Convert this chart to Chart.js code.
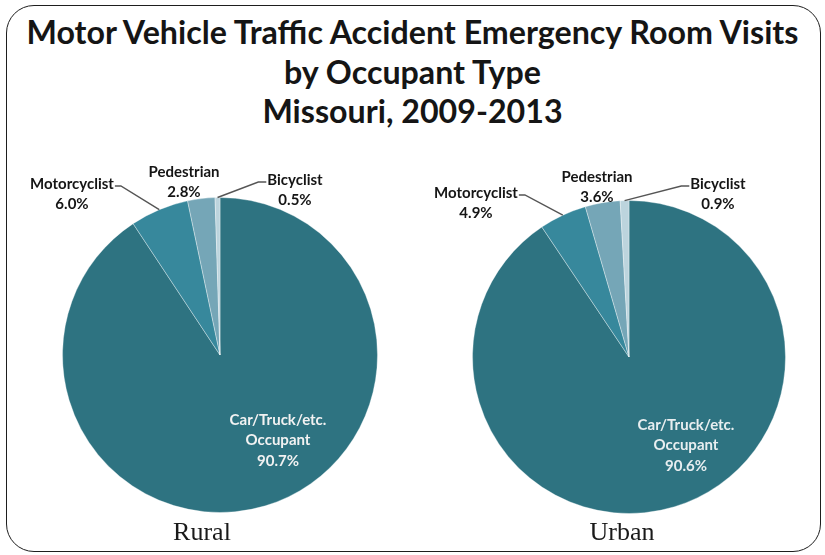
<!DOCTYPE html>
<html>
<head>
<meta charset="utf-8">
<script src="https://cdn.jsdelivr.net/npm/chart.js@4.4.1/dist/chart.umd.min.js"></script>
<style>
  html, body { margin: 0; padding: 0; background: #fff; }
  body { width: 825px; height: 555px; position: relative; overflow: hidden; }
  .frame {
    position: absolute; left: 6px; top: 5px; width: 813px; height: 545px;
    border: 1.5px solid #1e1e1e; border-radius: 28px;
  }
  .title {
    position: absolute; left: 0; top: 12px; width: 825px; text-align: center;
    font-family: Lato, "Open Sans", sans-serif; font-weight: 700; font-size: 32.2px;
    line-height: 39.5px; color: #151515;
  }
  .pie { position: absolute; }
  .caption {
    position: absolute; top: 517px; width: 120px; text-align: center;
    font-family: "Liberation Serif", "DejaVu Serif", serif; font-size: 26px; color: #1a1a1a;
  }
</style>
</head>
<body>
<div class="frame"></div>
<div class="title">Motor Vehicle Traffic Accident Emergency Room Visits<br>by Occupant Type<br>Missouri, 2009-2013</div>
<div class="pie" style="left:0px; top:150px; width:440px; height:390px;"><canvas id="ruralChart"></canvas></div>
<div class="pie" style="left:420px; top:150px; width:405px; height:390px;"><canvas id="urbanChart"></canvas></div>
<div class="caption" style="left:142px;">Rural</div>
<div class="caption" style="left:562px;">Urban</div>
<script>
// Data
const categories = [["Car/Truck/etc.", "Occupant"], "Motorcyclist", "Pedestrian", "Bicyclist"];
const ruralShare = [90.7, 6.0, 2.8, 0.5];
const urbanShare = [90.6, 4.9, 3.6, 0.9];
const sliceColors = ["#2e7381", "#37889c", "#75a6b7", "#bcd4dd"];

// Where each label sits relative to the pie centre, and whether it gets a leader line
const ruralLabelSpots = [
  { dx: 58, dy: 65, color: "#f2f2f2" },
  { dx: -148, dy: -171, leader: "left" },
  { dx: -36, dy: -183 },
  { dx: 75, dy: -175, leader: "right" },
];
const urbanLabelSpots = [
  { dx: 57, dy: 68, color: "#e8eef0" },
  { dx: -153, dy: -164, leader: "left" },
  { dx: -32, dy: -180 },
  { dx: 89, dy: -173, leader: "right" },
];

// Draws the callout labels (name + percent) with optional leader lines
const calloutLabels = {
  id: "calloutLabels",
  afterDraw(chart, args, opts) {
    const ctx = chart.ctx;
    const meta = chart.getDatasetMeta(0);
    const values = chart.data.datasets[0].data;
    ctx.save();
    ctx.font = "bold 15px Lato, 'Open Sans', sans-serif";
    ctx.textAlign = "center";
    ctx.textBaseline = "middle";
    meta.data.forEach((arc, i) => {
      const spot = opts.spots[i];
      const name = chart.data.labels[i];
      const lines = (Array.isArray(name) ? name.slice() : [name]);
      lines.push(values[i].toFixed(1) + "%");
      const tx = arc.x + spot.dx;
      const ty = arc.y + spot.dy;
      if (spot.leader) {
        const mid = (arc.startAngle + arc.endAngle) / 2;
        const ax = arc.x + Math.cos(mid) * arc.outerRadius;
        const ay = arc.y + Math.sin(mid) * arc.outerRadius;
        const half = ctx.measureText(lines[0]).width / 2;
        const sx = spot.leader === "left" ? tx + half + 1 : tx - half - 1;
        const ex = spot.leader === "left" ? sx + 6 : sx - 8;
        ctx.beginPath();
        ctx.moveTo(sx, ty + 2);
        ctx.lineTo(ex, ty + 2);
        ctx.lineTo(ax, ay);
        ctx.strokeStyle = "#555";
        ctx.lineWidth = 1.4;
        ctx.stroke();
      }
      ctx.fillStyle = spot.color || "#151515";
      lines.forEach((line, k) => ctx.fillText(line, tx, ty + k * 20.5));
    });
    ctx.restore();
  },
};

function buildPie(canvasId, values, spots, padding) {
  return new Chart(document.getElementById(canvasId), {
    type: "pie",
    data: {
      labels: categories,
      datasets: [
        {
          data: values,
          backgroundColor: sliceColors,
          borderColor: "rgba(255, 255, 255, 0.35)",
          borderWidth: 1,
          hoverOffset: 0,
        },
      ],
    },
    options: {
      responsive: true,
      maintainAspectRatio: false,
      animation: false,
      layout: { padding: padding },
      plugins: {
        legend: { display: false },
        tooltip: { enabled: false },
        calloutLabels: { spots: spots },
      },
    },
    plugins: [calloutLabels],
  });
}

buildPie("ruralChart", ruralShare, ruralLabelSpots, { left: 62, right: 62, top: 47, bottom: 27 });
buildPie("urbanChart", urbanShare, urbanLabelSpots, { left: 52, right: 39, top: 50, bottom: 26 });
</script>
</body>
</html>
